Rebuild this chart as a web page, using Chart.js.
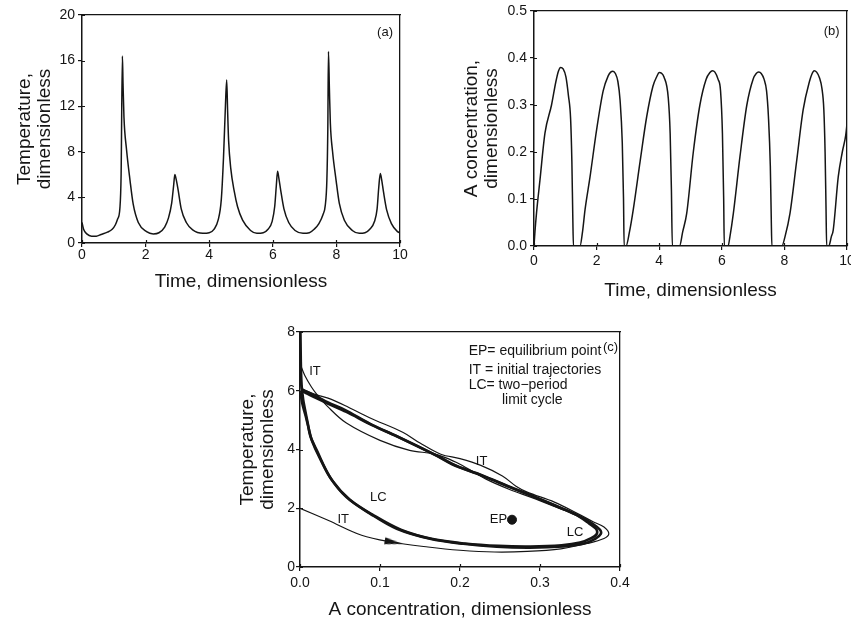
<!DOCTYPE html>
<html>
<head>
<meta charset="utf-8">
<script src="https://cdn.jsdelivr.net/npm/chart.js@4.4.1/dist/chart.umd.min.js"></script>
<style>
  html, body { margin: 0; padding: 0; background: #fff; }
  body { width: 851px; height: 625px; position: relative; overflow: hidden; }
  canvas { position: absolute; }
  #chartA { left: 0; top: 0; }
  #chartB { left: 425px; top: 0; }
  #chartC { left: 230px; top: 300px; }
</style>
</head>
<body>
<canvas id="chartA" width="425" height="300"></canvas>
<canvas id="chartB" width="426" height="305"></canvas>
<canvas id="chartC" width="400" height="325"></canvas>
<script>
// (a) temperature vs time
const timeA = [0, 0.05, 0.15, 0.3, 0.45, 0.6, 0.8, 0.95, 1.05, 1.12,
  1.19, 1.23, 1.27, 1.29, 1.32, 1.4, 1.51, 1.61, 1.77, 2.03,
  2.24, 2.42, 2.6, 2.72, 2.82, 2.88, 2.92, 2.96, 3.02, 3.12,
  3.28, 3.48, 3.8, 4.0, 4.15, 4.28, 4.38, 4.45, 4.51, 4.55,
  4.58, 4.61, 4.68, 4.79, 4.89, 5.05, 5.3, 5.5, 5.7, 5.85,
  5.98, 6.06, 6.11, 6.15, 6.19, 6.25, 6.35, 6.5, 6.7, 6.95,
  7.15, 7.3, 7.45, 7.58, 7.65, 7.7, 7.73, 7.75, 7.78, 7.81,
  7.88, 7.99, 8.09, 8.25, 8.5, 8.72, 8.9, 9.05, 9.2, 9.28,
  9.33, 9.38, 9.42, 9.48, 9.58, 9.73, 9.92, 10];
const tempA = [1.8, 1.2, 0.8, 0.6, 0.6, 0.75, 0.95, 1.2, 1.6, 2.1,
  3.0, 6.0, 16.4, 14, 11, 8.2, 5.5, 3.4, 1.8, 1.0,
  0.8, 0.9, 1.4, 2.2, 3.5, 5.0, 6.0, 5.6, 4.7, 3.0,
  1.8, 1.15, 0.85, 0.9, 1.2, 2.0, 3.8, 7.5, 12, 14.3,
  11.5, 9, 6.5, 4.5, 3.2, 2.0, 1.1, 0.85, 0.9, 1.2,
  1.9, 3.2, 5.0, 6.3, 5.7, 4.6, 3.0, 1.8, 1.1, 0.85,
  0.9, 1.2, 1.7, 2.5, 3.3, 5.5, 10, 16.8, 13.5, 10.5,
  8.0, 5.5, 3.5, 2.0, 1.1, 0.85, 0.9, 1.2, 1.9, 3.0,
  4.8, 6.1, 5.6, 4.5, 2.9, 1.7, 1.0, 0.9];

// (b) A concentration vs time
const timeB = [0, 0.03, 0.08, 0.19, 0.35, 0.56, 0.7, 0.78, 0.85, 0.93,
  1.02, 1.1, 1.17, 1.21, 1.24, 1.26, 1.47, 1.55, 1.63, 1.79,
  2.0, 2.21, 2.37, 2.45, 2.52, 2.6, 2.68, 2.75, 2.82, 2.86,
  2.88, 2.94, 3.05, 3.17, 3.39, 3.6, 3.8, 3.92, 4.0, 4.07,
  4.15, 4.29, 4.35, 4.39, 4.42, 4.65, 4.75, 4.88, 5.09, 5.3,
  5.5, 5.62, 5.7, 5.78, 5.88, 5.96, 6.02, 6.06, 6.08, 6.2,
  6.26, 6.37, 6.58, 6.8, 7.0, 7.1, 7.18, 7.26, 7.35, 7.43,
  7.49, 7.55, 7.58, 7.6, 7.92, 8.02, 8.18, 8.39, 8.6, 8.8,
  8.88, 8.95, 9.03, 9.12, 9.2, 9.26, 9.3, 9.33, 9.35, 9.42,
  9.5, 9.56, 9.72, 9.85, 9.96, 10];
const concB = [0, 0.03, 0.07, 0.14, 0.24, 0.30, 0.35, 0.372, 0.38, 0.377,
  0.36, 0.32, 0.27, 0.18, 0.06, 0, 0, 0.03, 0.077, 0.147,
  0.247, 0.33, 0.362, 0.37, 0.372, 0.367, 0.35, 0.31, 0.22, 0.1,
  0, 0, 0.03, 0.077, 0.18, 0.275, 0.34, 0.36, 0.369, 0.368,
  0.36, 0.315, 0.24, 0.12, 0, 0, 0.03, 0.07, 0.2, 0.3,
  0.355, 0.369, 0.373, 0.37, 0.355, 0.33, 0.24, 0.1, 0, 0,
  0.02, 0.07, 0.19, 0.3, 0.355, 0.367, 0.37, 0.367, 0.355, 0.33,
  0.275, 0.17, 0.06, 0, 0, 0.02, 0.07, 0.18, 0.29, 0.35,
  0.366, 0.373, 0.37, 0.358, 0.335, 0.29, 0.2, 0.08, 0, 0,
  0.02, 0.034, 0.147, 0.2, 0.236, 0.26];

// (c) phase plane: limit cycle (two loops) and initial trajectories
const lcBigConc = [0, 0.001, 0.002, 0.004, 0.006, 0.01, 0.013, 0.021, 0.0375, 0.058,
  0.0875, 0.121, 0.1625, 0.204, 0.246, 0.2875, 0.329, 0.354, 0.369, 0.376,
  0.375, 0.367, 0.35, 0.329, 0.2875, 0.262, 0.232, 0.195, 0.172, 0.121,
  0.087, 0.056, 0.035, 0.021, 0.008, 0.002, 0.0005, 0];
const lcBigTemp = [9.5, 7.0, 6.2, 5.7, 5.4, 4.85, 4.45, 3.97, 3.06, 2.38,
  1.82, 1.3, 0.96, 0.79, 0.69, 0.66, 0.70, 0.79, 0.96, 1.13,
  1.27, 1.45, 1.72, 1.98, 2.45, 2.72, 3.06, 3.45, 3.78, 4.45,
  4.88, 5.35, 5.6, 5.8, 5.97, 6.1, 7.5, 9.5];
const lcSmallConc = [0.0005, 0.003, 0.007, 0.011, 0.015, 0.024, 0.04, 0.062, 0.092, 0.126,
  0.166, 0.206, 0.248, 0.288, 0.327, 0.35, 0.364, 0.371, 0.37, 0.362,
  0.345, 0.322, 0.283, 0.258, 0.228, 0.19, 0.17, 0.125, 0.09, 0.058,
  0.036, 0.021, 0.009, 0.003, 0.0005];
const lcSmallTemp = [5.95, 5.55, 5.15, 4.7, 4.3, 3.75, 2.95, 2.3, 1.76, 1.27,
  0.95, 0.8, 0.72, 0.7, 0.74, 0.83, 0.98, 1.13, 1.3, 1.47,
  1.78, 2.05, 2.5, 2.78, 3.12, 3.5, 3.8, 4.4, 4.83, 5.28,
  5.55, 5.74, 5.9, 5.98, 5.95];
const itLowConc = [0, 0.035, 0.077, 0.112, 0.16, 0.2, 0.243, 0.284, 0.326, 0.359,
  0.38, 0.386, 0.38, 0.367, 0.347, 0.318, 0.284, 0.27, 0.253, 0.226,
  0.2, 0.176, 0.15, 0.129, 0.087, 0.056, 0.035, 0.021, 0.008, 0.001];
const itLowTemp = [2.0, 1.59, 1.08, 0.86, 0.68, 0.57, 0.51, 0.53, 0.62, 0.8,
  0.97, 1.13, 1.36, 1.53, 1.82, 2.21, 2.55, 2.75, 3.1, 3.46,
  3.69, 3.84, 4.22, 4.58, 5.08, 5.5, 5.75, 5.86, 6.0, 6.08];
const itTopConc = [0, 0.006, 0.0145, 0.021, 0.035, 0.058, 0.1, 0.137, 0.166, 0.18,
  0.2, 0.232, 0.262, 0.29, 0.33];
const itTopTemp = [6.92, 6.52, 6.12, 5.88, 5.45, 4.9, 4.31, 3.97, 3.86, 3.74,
  3.5, 3.0, 2.64, 2.36, 1.93];
const equilibrium = [0.265, 1.61];
const arrowAt = [0.117, 0.84];

// tick labels
const ticksTime = [0, 2, 4, 6, 8, 10];
const ticksTempA = [0, 4, 8, 12, 16, 20];
const ticksConcB = [0, 0.1, 0.2, 0.3, 0.4, 0.5];
const ticksConcC = [0, 0.1, 0.2, 0.3, 0.4];
const ticksTempC = [0, 2, 4, 6, 8];

// text placed in data coordinates
const notesA = [{ text: '(a)', x: 9.53, y: 18.5 }];
const notesB = [{ text: '(b)', x: 9.51, y: 0.456 }];
const notesC = [
  { text: 'IT', x: 0.0187, y: 6.65 },
  { text: 'IT', x: 0.227, y: 3.6 },
  { text: 'LC', x: 0.098, y: 2.38 },
  { text: 'IT', x: 0.054, y: 1.62 },
  { text: 'EP', x: 0.248, y: 1.62 },
  { text: 'LC', x: 0.3437, y: 1.19 },
  { text: 'EP= equilibrium point', x: 0.2108, y: 7.36, align: 'left', size: 14 },
  { text: 'IT = initial trajectories', x: 0.2108, y: 6.71, align: 'left', size: 14 },
  { text: 'LC= two\u2212period', x: 0.2108, y: 6.18, align: 'left', size: 14 },
  { text: 'limit cycle', x: 0.2524, y: 5.69, align: 'left', size: 14 },
  { text: '(c)', x: 0.3882, y: 7.46 }
];

const INK = '#151515';
const FONT = "'Liberation Sans', Arial, sans-serif";
Chart.defaults.font.family = FONT;
Chart.defaults.color = INK;
Chart.defaults.animation = false;

const pts = (xs, ys) => xs.map((x, i) => ({ x, y: ys[i] }));

// labels inside the plot, plus the short inner half of each tick mark
const notesPlugin = {
  id: 'notes',
  afterDraw(chart, args, opts) {
    const { ctx, scales, chartArea } = chart;
    ctx.save();
    ctx.strokeStyle = INK;
    ctx.lineWidth = 1.2;
    ctx.beginPath();
    scales.x.ticks.forEach(t => {
      const px = Math.round(scales.x.getPixelForValue(t.value)) + 0.5;
      ctx.moveTo(px, chartArea.bottom);
      ctx.lineTo(px, chartArea.bottom - 3);
    });
    scales.y.ticks.forEach(t => {
      const py = Math.round(scales.y.getPixelForValue(t.value)) + 0.5;
      ctx.moveTo(chartArea.left, py);
      ctx.lineTo(chartArea.left + 3, py);
    });
    ctx.stroke();
    ctx.fillStyle = INK;
    ctx.textBaseline = 'middle';
    (opts.items || []).forEach(n => {
      ctx.font = (n.size || 13) + 'px ' + FONT;
      ctx.textAlign = n.align || 'center';
      ctx.fillText(n.text, scales.x.getPixelForValue(n.x), scales.y.getPixelForValue(n.y));
    });
    ctx.restore();
  }
};

function makeScales(c) {
  const frame = {
    type: 'linear', min: 0, max: 1,
    grid: { display: false }, ticks: { display: false },
    border: { display: true, color: INK, width: 1.3 }
  };
  return {
    x: {
      type: 'linear', position: 'bottom', min: c.xTicks[0], max: c.xTicks[c.xTicks.length - 1],
      afterBuildTicks: s => { s.ticks = c.xTicks.map(v => ({ value: v })); },
      afterFit: s => { s.height = c.xHeight; s.paddingLeft = 0; s.paddingRight = 0; },
      grid: { drawOnChartArea: false, tickLength: 4, color: INK, lineWidth: 1.2 },
      border: { display: true, color: INK, width: 1.5 },
      ticks: { font: { size: 14 }, padding: c.xTickPad, maxRotation: 0, autoSkip: false,
        callback: v => v.toFixed(c.xDec) },
      title: { display: true, text: c.xTitle, font: { size: 19, lineHeight: 1.05 },
        padding: { top: 0, bottom: c.xTitlePad } }
    },
    y: {
      type: 'linear', position: 'left', min: c.yTicks[0], max: c.yTicks[c.yTicks.length - 1],
      afterBuildTicks: s => { s.ticks = c.yTicks.map(v => ({ value: v })); },
      afterFit: s => { s.width = c.yWidth; s.paddingTop = 0; s.paddingBottom = 0; },
      grid: { drawOnChartArea: false, tickLength: 4, color: INK, lineWidth: 1.2 },
      border: { display: true, color: INK, width: 1.5 },
      ticks: { font: { size: 14 }, padding: c.yTickPad, autoSkip: false,
        callback: v => v.toFixed(c.yDec) },
      title: { display: true, text: c.yTitle, font: { size: 19, lineHeight: 1.05 },
        padding: { top: c.yTitlePad, bottom: 0 } }
    },
    x2: Object.assign({ position: 'top', afterFit: s => { s.height = 0; s.paddingLeft = 0; s.paddingRight = 0; } }, frame),
    y2: Object.assign({ position: 'right', afterFit: s => { s.width = 0; s.paddingTop = 0; s.paddingBottom = 0; } }, frame)
  };
}

const quiet = { legend: { display: false }, tooltip: { enabled: false } };

new Chart(document.getElementById('chartA'), {
  type: 'line',
  data: {
    datasets: [{
      data: pts(timeA, tempA), borderColor: INK, borderWidth: 1.5,
      pointRadius: 0, cubicInterpolationMode: 'monotone'
    }]
  },
  options: {
    responsive: false,
    layout: { padding: { top: 15, right: 25, left: 0, bottom: 0 } },
    scales: makeScales({
      xTicks: ticksTime, yTicks: ticksTempA, xDec: 0, yDec: 0,
      xTitle: 'Time, dimensionless', yTitle: ['Temperature,', 'dimensionless'],
      xHeight: 57, yWidth: 82, xTickPad: 0, yTickPad: 3, xTitlePad: 8, yTitlePad: 15
    }),
    plugins: Object.assign({ notes: { items: notesA } }, quiet)
  },
  plugins: [notesPlugin]
});

new Chart(document.getElementById('chartB'), {
  type: 'line',
  data: {
    datasets: [{
      data: pts(timeB, concB), borderColor: INK, borderWidth: 1.5,
      pointRadius: 0, cubicInterpolationMode: 'monotone'
    }]
  },
  options: {
    responsive: false,
    layout: { padding: { top: 11, right: 4, left: 0, bottom: 0 } },
    scales: makeScales({
      xTicks: ticksTime, yTicks: ticksConcB, xDec: 0, yDec: 1,
      xTitle: 'Time, dimensionless', yTitle: ['A concentration,', 'dimensionless'],
      xHeight: 59, yWidth: 109, xTickPad: 3, yTickPad: 3, xTitlePad: 4, yTitlePad: 37
    }),
    plugins: Object.assign({ notes: { items: notesB } }, quiet)
  },
  plugins: [notesPlugin]
});

const arrowHead = document.createElement('canvas');
arrowHead.width = 18;
arrowHead.height = 8;
(function () {
  const g = arrowHead.getContext('2d');
  g.fillStyle = INK;
  g.beginPath();
  g.moveTo(0, 0.5);
  g.lineTo(18, 4);
  g.lineTo(0, 7.5);
  g.closePath();
  g.fill();
})();

const thin = { showLine: true, borderColor: INK, borderWidth: 1.2, pointRadius: 0, tension: 0.35 };
const thick = { showLine: true, borderColor: INK, borderWidth: 2.6, pointRadius: 0, tension: 0.35 };

new Chart(document.getElementById('chartC'), {
  type: 'scatter',
  data: {
    datasets: [
      Object.assign({ data: pts(lcBigConc, lcBigTemp) }, thick),
      Object.assign({ data: pts(lcSmallConc, lcSmallTemp) }, thick),
      Object.assign({ data: pts(itLowConc, itLowTemp) }, thin),
      Object.assign({ data: pts(itTopConc, itTopTemp) }, thin),
      { data: [{ x: equilibrium[0], y: equilibrium[1] }], pointRadius: 4.5,
        backgroundColor: INK, borderColor: INK, showLine: false },
      { data: [{ x: arrowAt[0], y: arrowAt[1] }], pointStyle: arrowHead, rotation: 10,
        pointRadius: 9, showLine: false }
    ]
  },
  options: {
    responsive: false,
    layout: { padding: { top: 32, right: 10, left: 0, bottom: 0 } },
    scales: makeScales({
      xTicks: ticksConcC, yTicks: ticksTempC, xDec: 1, yDec: 0,
      xTitle: 'A concentration, dimensionless', yTitle: ['Temperature,', 'dimensionless'],
      xHeight: 58, yWidth: 70, xTickPad: 4, yTickPad: 1, xTitlePad: 5, yTitlePad: 8
    }),
    plugins: Object.assign({ notes: { items: notesC } }, quiet)
  },
  plugins: [notesPlugin]
});
</script>
</body>
</html>
